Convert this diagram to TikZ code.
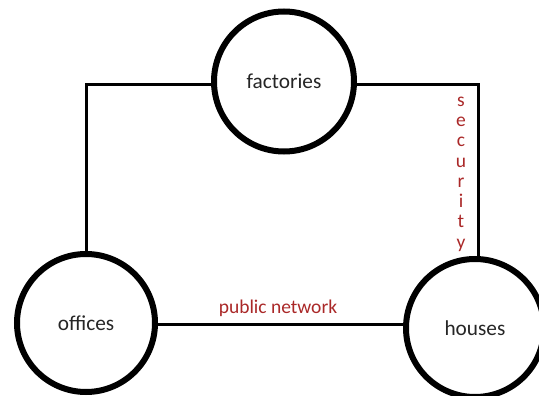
\documentclass[tikz,border=0pt]{standalone}
\usepackage{fontspec}
\setmainfont{Carlito}
\definecolor{txt}{RGB}{38,38,38}
\definecolor{lbl}{RGB}{170,40,40}
\begin{document}
\begin{tikzpicture}[x=1pt,y=-1pt,
  place/.style={circle,draw=black,line width=6pt,fill=white,inner sep=0pt,text=txt,font=\fontsize{21.3}{24}\selectfont},
  link/.style={draw=black,line width=3pt},
  lab/.style={text=lbl,font=\fontsize{19.5}{20}\selectfont,inner sep=0pt}]
\useasboundingbox (0,0) rectangle (539,396);
\node[place,minimum size=140pt] (factories) at (284,81.5) {factories};
\node[place,minimum size=138pt] (offices) at (86,323) {offices};
\node[place,minimum size=138pt] (houses) at (475,328) {houses};
\draw[link] ([yshift=-3.5pt]factories.west) -| (offices.north);
\draw[link] ([yshift=-3.5pt]factories.east) -| ([xshift=3pt]houses.north);
\draw[link] ([yshift=-1pt]offices.east) -- ([yshift=-1pt]offices.east -| houses.west);
\node[lab] (pn) at (278,308) {public network};
\node[lab,align=center,font=\fontsize{19.5}{20.3}\selectfont] (sec) at (461,174) {s\\e\\c\\u\\r\\i\\t\\y};
\end{tikzpicture}
\end{document}
